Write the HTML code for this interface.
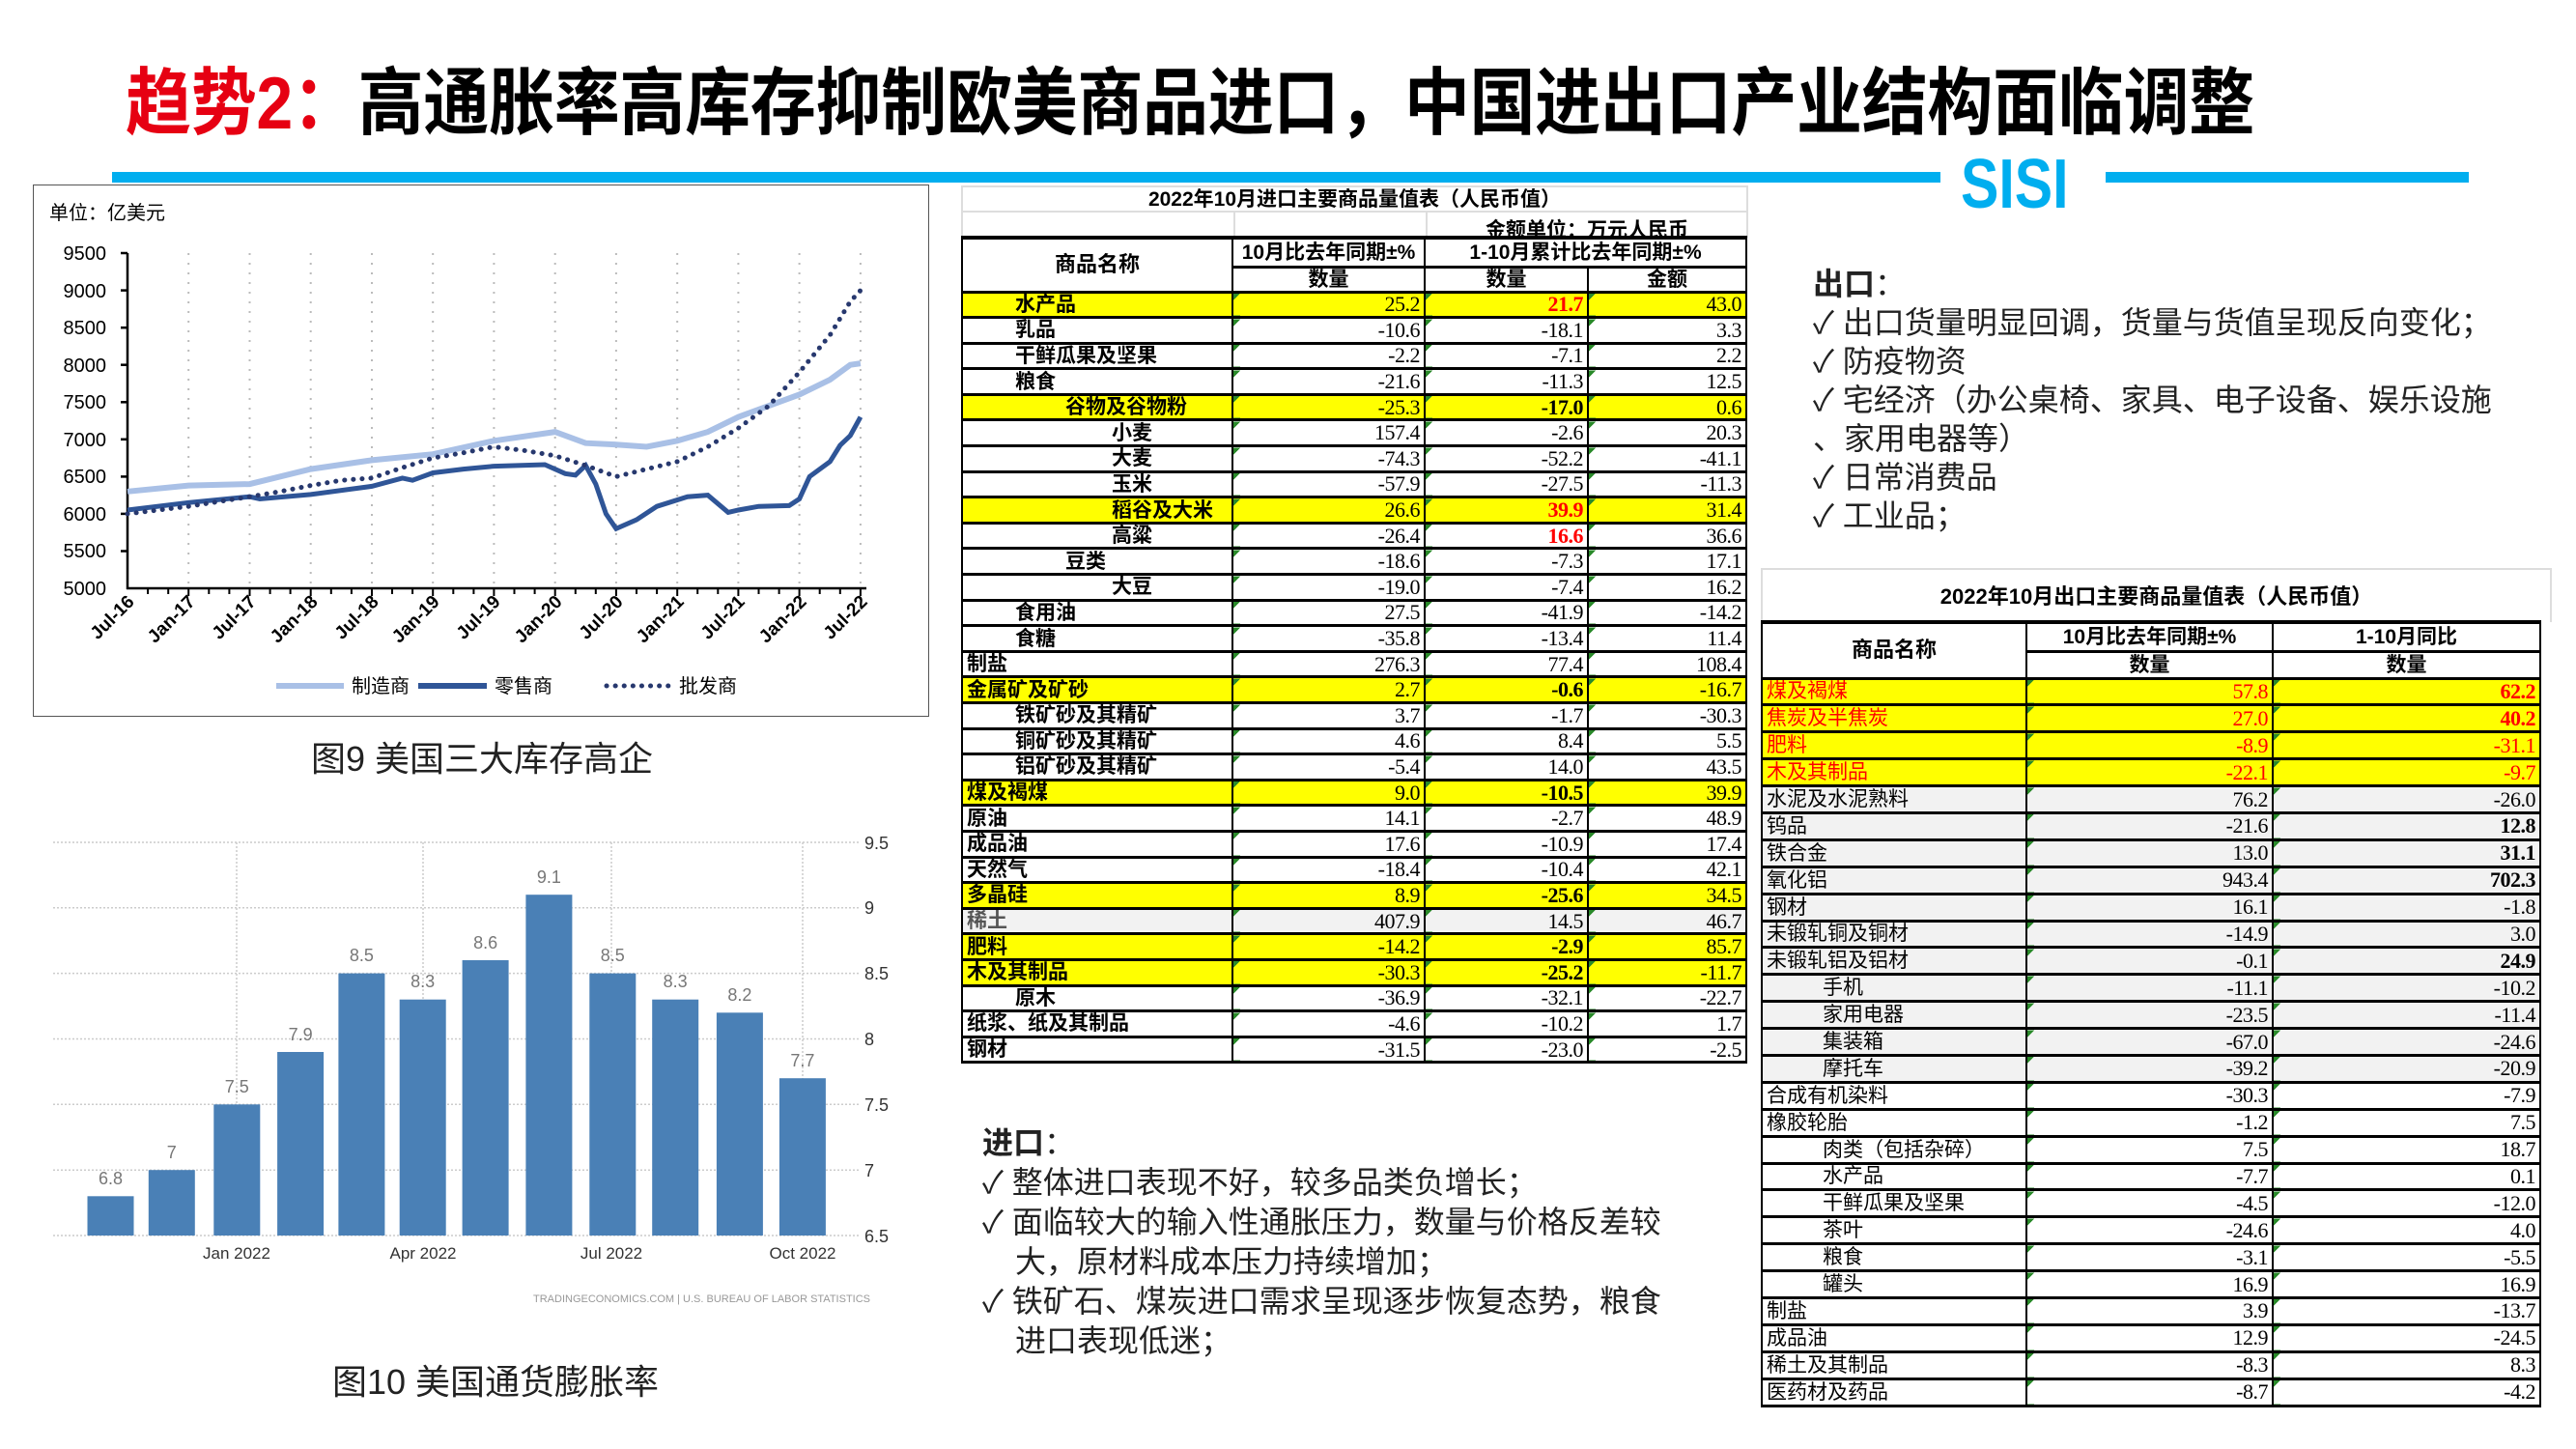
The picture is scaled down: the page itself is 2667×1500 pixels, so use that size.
<!DOCTYPE html>
<html><head><meta charset="utf-8">
<style>
*{margin:0;padding:0;box-sizing:border-box}
body{width:2667px;height:1500px;background:#fff;position:relative;overflow:hidden;font-family:"Liberation Sans","Noto Sans CJK SC",sans-serif;color:#000}
.abs{position:absolute}
.title{left:130px;top:62px;font-size:68px;font-weight:bold;letter-spacing:-0.3px;white-space:nowrap;line-height:90px;transform:scaleY(1.12);transform-origin:left center}
.bar{background:#00aeef;height:11px;top:178px}
.sisi{left:2030px;top:150px;font-size:72px;font-weight:bold;color:#00aeef;transform:scaleX(0.82);transform-origin:left top;font-family:"Liberation Sans Narrow","Liberation Sans",sans-serif}
table{border-collapse:collapse;table-layout:fixed;position:absolute}
td{padding:0 4px;white-space:nowrap;overflow:hidden;font-size:21px;line-height:1}
.imp td,.exp td{border-left:2px solid #000;border-right:2px solid #000;border-bottom:3px solid #000}
td.n{text-align:right;font-family:"Liberation Serif","Noto Serif CJK SC",serif;font-size:22px;background-image:linear-gradient(135deg,#2a8a2a 5px,transparent 5px);letter-spacing:-0.5px}
td.nm{font-weight:bold;font-family:"Liberation Sans","Noto Sans CJK SC",sans-serif}
.exp td.nm{font-weight:normal}
tr.y td{background-color:#ffff00}
tr.g td{background-color:#f2f2f2}
.r{color:#f00}
.b{font-weight:bold}
.hd td{text-align:center;font-weight:bold}
.txt{font-size:32px;color:#222;line-height:40px;white-space:nowrap;font-family:"Liberation Sans","Noto Sans CJK SC",sans-serif}
</style></head><body>

<div class="abs title"><span style="color:#e60012">趋势2：</span>高通胀率高库存抑制欧美商品进口，中国进出口产业结构面临调整</div>
<div class="abs bar" style="left:116px;width:1893px"></div>
<div class="abs bar" style="left:2180px;width:376px"></div>
<div class="abs sisi">SISI</div>

<!-- Chart 1 -->
<div class="abs" style="left:34px;top:191px;width:928px;height:551px;border:1.5px solid #555"></div>
<svg class="abs" style="left:0;top:0" width="1000" height="1500">
<text x="51" y="227" font-size="20" font-family="Liberation Sans,Noto Sans CJK SC,sans-serif">单位：亿美元</text>
<g stroke="#bbb" stroke-width="2" stroke-dasharray="2,8">
<line x1="195.2" y1="262" x2="195.2" y2="609"/><line x1="258.5" y1="262" x2="258.5" y2="609"/><line x1="321.7" y1="262" x2="321.7" y2="609"/><line x1="385" y1="262" x2="385" y2="609"/><line x1="448.2" y1="262" x2="448.2" y2="609"/><line x1="511.4" y1="262" x2="511.4" y2="609"/><line x1="574.7" y1="262" x2="574.7" y2="609"/><line x1="637.9" y1="262" x2="637.9" y2="609"/><line x1="701.2" y1="262" x2="701.2" y2="609"/><line x1="764.4" y1="262" x2="764.4" y2="609"/><line x1="827.6" y1="262" x2="827.6" y2="609"/><line x1="890.9" y1="262" x2="890.9" y2="609"/>
</g>
<g stroke="#000" stroke-width="2.5">
<line x1="132" y1="262" x2="132" y2="610"/><line x1="131" y1="609" x2="897" y2="609"/>
<line x1="125" y1="262" x2="132" y2="262"/><line x1="125" y1="300.6" x2="132" y2="300.6"/><line x1="125" y1="339.2" x2="132" y2="339.2"/><line x1="125" y1="377.7" x2="132" y2="377.7"/><line x1="125" y1="416.3" x2="132" y2="416.3"/><line x1="125" y1="454.8" x2="132" y2="454.8"/><line x1="125" y1="493.4" x2="132" y2="493.4"/><line x1="125" y1="531.9" x2="132" y2="531.9"/><line x1="125" y1="570.5" x2="132" y2="570.5"/>
</g>
<path stroke="#000" stroke-width="2" d="M153.1 609v6M174.2 609v6M195.2 609v8M216.3 609v6M237.4 609v6M258.5 609v8M279.6 609v6M300.6 609v6M321.7 609v8M342.8 609v6M363.9 609v6M385 609v8M406 609v6M427.1 609v6M448.2 609v8M469.3 609v6M490.4 609v6M511.4 609v8M532.5 609v6M553.6 609v6M574.7 609v8M595.8 609v6M616.8 609v6M637.9 609v8M659 609v6M680.1 609v6M701.2 609v8M722.2 609v6M743.3 609v6M764.4 609v8M785.5 609v6M806.6 609v6M827.6 609v8M848.7 609v6M869.8 609v6M890.9 609v8"/>
<g font-size="20" font-family="Liberation Sans Narrow,Liberation Sans,sans-serif" text-anchor="end">
<text x="110" y="269">9500</text><text x="110" y="308">9000</text><text x="110" y="346">8500</text><text x="110" y="385">8000</text><text x="110" y="423">7500</text><text x="110" y="462">7000</text><text x="110" y="500">6500</text><text x="110" y="539">6000</text><text x="110" y="577">5500</text><text x="110" y="616">5000</text>
</g>
<g font-size="19" font-weight="bold" font-family="Liberation Sans,sans-serif" text-anchor="end">
<text transform="translate(140,624) rotate(-45)">Jul-16</text><text transform="translate(203,624) rotate(-45)">Jan-17</text><text transform="translate(266,624) rotate(-45)">Jul-17</text><text transform="translate(330,624) rotate(-45)">Jan-18</text><text transform="translate(393,624) rotate(-45)">Jul-18</text><text transform="translate(456,624) rotate(-45)">Jan-19</text><text transform="translate(519,624) rotate(-45)">Jul-19</text><text transform="translate(583,624) rotate(-45)">Jan-20</text><text transform="translate(646,624) rotate(-45)">Jul-20</text><text transform="translate(709,624) rotate(-45)">Jan-21</text><text transform="translate(772,624) rotate(-45)">Jul-21</text><text transform="translate(836,624) rotate(-45)">Jan-22</text><text transform="translate(899,624) rotate(-45)">Jul-22</text>
</g>
<polyline fill="none" stroke="#a9c0e6" stroke-width="6" points="132,508.8 195.2,502.6 258.5,501.1 321.7,485.6 385,476.4 448.2,470.2 511.4,456.3 574.7,447.1 606.3,458.7 637.9,460.2 669.5,462.5 701.2,456.3 732.8,447.1 764.4,431.7 796,420.1 827.6,408.5 859.3,393.1 880.3,377.7 890.9,376.2"/>
<polyline fill="none" stroke="#2f5597" stroke-width="5" points="132,528 195.2,520.3 258.5,514.2 269,516.5 321.7,511.9 385,503.4 416.6,494.9 427.1,497.2 448.2,489.5 479.8,485.6 511.4,482.6 564.1,481 585.2,490.3 595.8,491.8 606.3,481.8 616.8,501.1 627.4,531.9 637.9,547.3 659,538.1 680.1,524.2 711.7,514.2 732.8,512.6 753.9,530.4 764.4,528 785.5,524.2 817.1,523.4 827.6,516.5 838.2,493.4 859.3,477.9 869.8,461 880.3,451 890.9,431.7"/>
<polyline fill="none" stroke="#27386e" stroke-width="5" stroke-linecap="round" stroke-dasharray="0.1,9" points="132,531.9 195.2,524.2 258.5,514.2 290.1,508.8 321.7,502.6 353.3,497.2 385,494.9 416.6,484.1 448.2,474.1 479.8,468.7 511.4,462.5 543.1,466.4 574.7,471.8 606.3,481.8 637.9,493.4 669.5,485.6 701.2,477.9 732.8,462.5 764.4,443.2 796,420.1 827.6,385.4 859.3,346.9 880.3,312.2 890.9,300.6"/>
<line x1="286" y1="710" x2="356" y2="710" stroke="#a9c0e6" stroke-width="6"/>
<line x1="433" y1="710" x2="504" y2="710" stroke="#2f5597" stroke-width="6"/>
<line x1="628" y1="710" x2="694" y2="710" stroke="#27386e" stroke-width="5" stroke-linecap="round" stroke-dasharray="0.1,9"/>
<g font-size="20" font-family="Liberation Sans,Noto Sans CJK SC,sans-serif">
<text x="364" y="717">制造商</text><text x="512" y="717">零售商</text><text x="703" y="717">批发商</text>
</g>
<text x="499" y="798" font-size="36" text-anchor="middle" font-family="Liberation Sans,Noto Sans CJK SC,sans-serif" fill="#222">图9 美国三大库存高企</text>

<!-- Chart 2 -->
<g stroke="#ccc" stroke-width="1.5" stroke-dasharray="2,2">
<line x1="55" y1="872" x2="890" y2="872"/><line x1="55" y1="939.8" x2="890" y2="939.8"/><line x1="55" y1="1007.6" x2="890" y2="1007.6"/><line x1="55" y1="1075.5" x2="890" y2="1075.5"/><line x1="55" y1="1143.3" x2="890" y2="1143.3"/><line x1="55" y1="1211.2" x2="890" y2="1211.2"/><line x1="55" y1="1279" x2="890" y2="1279"/>
<line x1="245" y1="872" x2="245" y2="1279"/><line x1="438" y1="872" x2="438" y2="1279"/><line x1="633" y1="872" x2="633" y2="1279"/><line x1="831" y1="872" x2="831" y2="1279"/>
</g>
<g fill="#4a80b6">
<rect x="90.5" y="1238.3" width="48" height="40.7"/><rect x="153.8" y="1211.2" width="48" height="67.8"/><rect x="221.3" y="1143.3" width="48" height="135.7"/><rect x="287.1" y="1089" width="48" height="190"/><rect x="350.4" y="1007.6" width="48" height="271.4"/><rect x="413.7" y="1034.7" width="48" height="244.3"/><rect x="478.6" y="994" width="48" height="285"/><rect x="544.4" y="926.2" width="48" height="352.8"/><rect x="610.3" y="1007.6" width="48" height="271.4"/><rect x="675.2" y="1034.7" width="48" height="244.3"/><rect x="741.9" y="1048.3" width="48" height="230.7"/><rect x="806.9" y="1116.2" width="48" height="162.8"/>
</g>
<g font-size="18" fill="#777" text-anchor="middle" font-family="Liberation Sans Narrow,Liberation Sans,sans-serif">
<text x="114.5" y="1226">6.8</text><text x="177.8" y="1199">7</text><text x="245.3" y="1131">7.5</text><text x="311.1" y="1077">7.9</text><text x="374.4" y="995">8.5</text><text x="437.7" y="1022">8.3</text><text x="502.6" y="982">8.6</text><text x="568.4" y="914">9.1</text><text x="634.3" y="995">8.5</text><text x="699.2" y="1022">8.3</text><text x="765.9" y="1036">8.2</text><text x="830.9" y="1104">7.7</text>
</g>
<g font-size="18" fill="#333" font-family="Liberation Sans Narrow,Liberation Sans,sans-serif">
<text x="895" y="879">9.5</text><text x="895" y="946">9</text><text x="895" y="1014">8.5</text><text x="895" y="1082">8</text><text x="895" y="1150">7.5</text><text x="895" y="1218">7</text><text x="895" y="1286">6.5</text>
</g>
<g font-size="17" fill="#333" text-anchor="middle" font-family="Liberation Sans Narrow,Liberation Sans,sans-serif">
<text x="245" y="1303">Jan 2022</text><text x="438" y="1303">Apr 2022</text><text x="633" y="1303">Jul 2022</text><text x="831" y="1303">Oct 2022</text>
</g>
<text x="901" y="1348" font-size="11" fill="#999" text-anchor="end" font-family="Liberation Sans,sans-serif">TRADINGECONOMICS.COM  |  U.S. BUREAU OF LABOR STATISTICS</text>
<text x="513" y="1443" font-size="36" text-anchor="middle" font-family="Liberation Sans,Noto Sans CJK SC,sans-serif" fill="#222">图10 美国通货膨胀率</text>
</svg>

<!-- Import table -->
<div class="abs" style="left:995px;top:192px;width:815px;height:28px;border:2px solid #ddd;text-align:center;font-size:21px;font-weight:bold;line-height:26px">2022年10月进口主要商品量值表（人民币值）</div>
<div class="abs" style="left:995px;top:220px;width:815px;height:26px;border-left:2px solid #ddd;border-right:2px solid #ddd"></div>
<div class="abs" style="left:1277px;top:220px;width:2px;height:26px;background:#ddd"></div>
<div class="abs" style="left:1476px;top:220px;width:2px;height:26px;background:#ddd"></div>
<div class="abs" style="left:1476px;top:222px;width:334px;text-align:center;font-size:21px;font-weight:bold">金额单位：万元人民币</div>
<table class="imp" style="left:995px;top:244px;width:812px;border-top:4px solid #000">
<colgroup><col style="width:280px"><col style="width:199px"><col style="width:169px"><col style="width:164px"></colgroup>
<tr class="hd" style="height:30px"><td rowspan="2" style="font-size:22px">商品名称</td><td>10月比去年同期±%</td><td colspan="2">1-10月累计比去年同期±%</td></tr>
<tr class="hd" style="height:26px"><td>数量</td><td>数量</td><td>金额</td></tr>
<tr class="y" style="height:26.6px"><td class="nm" style="padding-left:54px">水产品</td><td class="n">25.2</td><td class="n r b">21.7</td><td class="n">43.0</td></tr>
<tr style="height:26.6px"><td class="nm" style="padding-left:54px">乳品</td><td class="n">-10.6</td><td class="n">-18.1</td><td class="n">3.3</td></tr>
<tr style="height:26.6px"><td class="nm" style="padding-left:54px">干鲜瓜果及坚果</td><td class="n">-2.2</td><td class="n">-7.1</td><td class="n">2.2</td></tr>
<tr style="height:26.6px"><td class="nm" style="padding-left:54px">粮食</td><td class="n">-21.6</td><td class="n">-11.3</td><td class="n">12.5</td></tr>
<tr class="y" style="height:26.6px"><td class="nm" style="padding-left:106px">谷物及谷物粉</td><td class="n">-25.3</td><td class="n b">-17.0</td><td class="n">0.6</td></tr>
<tr style="height:26.6px"><td class="nm" style="padding-left:154px">小麦</td><td class="n">157.4</td><td class="n">-2.6</td><td class="n">20.3</td></tr>
<tr style="height:26.6px"><td class="nm" style="padding-left:154px">大麦</td><td class="n">-74.3</td><td class="n">-52.2</td><td class="n">-41.1</td></tr>
<tr style="height:26.6px"><td class="nm" style="padding-left:154px">玉米</td><td class="n">-57.9</td><td class="n">-27.5</td><td class="n">-11.3</td></tr>
<tr class="y" style="height:26.6px"><td class="nm" style="padding-left:154px">稻谷及大米</td><td class="n">26.6</td><td class="n r b">39.9</td><td class="n">31.4</td></tr>
<tr style="height:26.6px"><td class="nm" style="padding-left:154px">高粱</td><td class="n">-26.4</td><td class="n r b">16.6</td><td class="n">36.6</td></tr>
<tr style="height:26.6px"><td class="nm" style="padding-left:106px">豆类</td><td class="n">-18.6</td><td class="n">-7.3</td><td class="n">17.1</td></tr>
<tr style="height:26.6px"><td class="nm" style="padding-left:154px">大豆</td><td class="n">-19.0</td><td class="n">-7.4</td><td class="n">16.2</td></tr>
<tr style="height:26.6px"><td class="nm" style="padding-left:54px">食用油</td><td class="n">27.5</td><td class="n">-41.9</td><td class="n">-14.2</td></tr>
<tr style="height:26.6px"><td class="nm" style="padding-left:54px">食糖</td><td class="n">-35.8</td><td class="n">-13.4</td><td class="n">11.4</td></tr>
<tr style="height:26.6px"><td class="nm">制盐</td><td class="n">276.3</td><td class="n">77.4</td><td class="n">108.4</td></tr>
<tr class="y" style="height:26.6px"><td class="nm">金属矿及矿砂</td><td class="n">2.7</td><td class="n b">-0.6</td><td class="n">-16.7</td></tr>
<tr style="height:26.6px"><td class="nm" style="padding-left:54px">铁矿砂及其精矿</td><td class="n">3.7</td><td class="n">-1.7</td><td class="n">-30.3</td></tr>
<tr style="height:26.6px"><td class="nm" style="padding-left:54px">铜矿砂及其精矿</td><td class="n">4.6</td><td class="n">8.4</td><td class="n">5.5</td></tr>
<tr style="height:26.6px"><td class="nm" style="padding-left:54px">铝矿砂及其精矿</td><td class="n">-5.4</td><td class="n">14.0</td><td class="n">43.5</td></tr>
<tr class="y" style="height:26.6px"><td class="nm">煤及褐煤</td><td class="n">9.0</td><td class="n b">-10.5</td><td class="n">39.9</td></tr>
<tr style="height:26.6px"><td class="nm">原油</td><td class="n">14.1</td><td class="n">-2.7</td><td class="n">48.9</td></tr>
<tr style="height:26.6px"><td class="nm">成品油</td><td class="n">17.6</td><td class="n">-10.9</td><td class="n">17.4</td></tr>
<tr style="height:26.6px"><td class="nm">天然气</td><td class="n">-18.4</td><td class="n">-10.4</td><td class="n">42.1</td></tr>
<tr class="y" style="height:26.6px"><td class="nm">多晶硅</td><td class="n">8.9</td><td class="n b">-25.6</td><td class="n">34.5</td></tr>
<tr class="g" style="height:26.6px"><td class="nm" style="color:#555">稀土</td><td class="n">407.9</td><td class="n">14.5</td><td class="n">46.7</td></tr>
<tr class="y" style="height:26.6px"><td class="nm">肥料</td><td class="n">-14.2</td><td class="n b">-2.9</td><td class="n">85.7</td></tr>
<tr class="y" style="height:26.6px"><td class="nm">木及其制品</td><td class="n">-30.3</td><td class="n b">-25.2</td><td class="n">-11.7</td></tr>
<tr style="height:26.6px"><td class="nm" style="padding-left:54px">原木</td><td class="n">-36.9</td><td class="n">-32.1</td><td class="n">-22.7</td></tr>
<tr style="height:26.6px"><td class="nm">纸浆、纸及其制品</td><td class="n">-4.6</td><td class="n">-10.2</td><td class="n">1.7</td></tr>
<tr style="height:26.6px"><td class="nm">钢材</td><td class="n">-31.5</td><td class="n">-23.0</td><td class="n">-2.5</td></tr>
</table>

<!-- Export table -->
<div class="abs" style="left:1823px;top:588px;width:819px;height:56px;border:2px solid #ddd;border-bottom:none;text-align:center;font-size:22px;font-weight:bold;line-height:56px">2022年10月出口主要商品量值表（人民币值）</div>
<table class="exp" style="left:1823px;top:642px;width:806px;border-top:4px solid #000">
<colgroup><col style="width:274px"><col style="width:255px"><col style="width:277px"></colgroup>
<tr class="hd" style="height:30px"><td rowspan="2" style="font-size:22px">商品名称</td><td>10月比去年同期±%</td><td>1-10月同比</td></tr>
<tr class="hd" style="height:28px"><td>数量</td><td>数量</td></tr>
<tr class="y" style="height:27.9px"><td class="nm r">煤及褐煤</td><td class="n r">57.8</td><td class="n r b">62.2</td></tr>
<tr class="y" style="height:27.9px"><td class="nm r">焦炭及半焦炭</td><td class="n r">27.0</td><td class="n r b">40.2</td></tr>
<tr class="y" style="height:27.9px"><td class="nm r">肥料</td><td class="n r">-8.9</td><td class="n r">-31.1</td></tr>
<tr class="y" style="height:27.9px"><td class="nm r">木及其制品</td><td class="n r">-22.1</td><td class="n r">-9.7</td></tr>
<tr class="g" style="height:27.9px"><td class="nm">水泥及水泥熟料</td><td class="n">76.2</td><td class="n">-26.0</td></tr>
<tr class="g" style="height:27.9px"><td class="nm">钨品</td><td class="n">-21.6</td><td class="n b">12.8</td></tr>
<tr class="g" style="height:27.9px"><td class="nm">铁合金</td><td class="n">13.0</td><td class="n b">31.1</td></tr>
<tr class="g" style="height:27.9px"><td class="nm">氧化铝</td><td class="n">943.4</td><td class="n b">702.3</td></tr>
<tr class="g" style="height:27.9px"><td class="nm">钢材</td><td class="n">16.1</td><td class="n">-1.8</td></tr>
<tr class="g" style="height:27.9px"><td class="nm">未锻轧铜及铜材</td><td class="n">-14.9</td><td class="n">3.0</td></tr>
<tr class="g" style="height:27.9px"><td class="nm">未锻轧铝及铝材</td><td class="n">-0.1</td><td class="n b">24.9</td></tr>
<tr class="g" style="height:27.9px"><td class="nm" style="padding-left:62px">手机</td><td class="n">-11.1</td><td class="n">-10.2</td></tr>
<tr class="g" style="height:27.9px"><td class="nm" style="padding-left:62px">家用电器</td><td class="n">-23.5</td><td class="n">-11.4</td></tr>
<tr class="g" style="height:27.9px"><td class="nm" style="padding-left:62px">集装箱</td><td class="n">-67.0</td><td class="n">-24.6</td></tr>
<tr class="g" style="height:27.9px"><td class="nm" style="padding-left:62px">摩托车</td><td class="n">-39.2</td><td class="n">-20.9</td></tr>
<tr style="height:27.9px"><td class="nm">合成有机染料</td><td class="n">-30.3</td><td class="n">-7.9</td></tr>
<tr style="height:27.9px"><td class="nm">橡胶轮胎</td><td class="n">-1.2</td><td class="n">7.5</td></tr>
<tr style="height:27.9px"><td class="nm" style="padding-left:62px">肉类（包括杂碎）</td><td class="n">7.5</td><td class="n">18.7</td></tr>
<tr style="height:27.9px"><td class="nm" style="padding-left:62px">水产品</td><td class="n">-7.7</td><td class="n">0.1</td></tr>
<tr style="height:27.9px"><td class="nm" style="padding-left:62px">干鲜瓜果及坚果</td><td class="n">-4.5</td><td class="n">-12.0</td></tr>
<tr style="height:27.9px"><td class="nm" style="padding-left:62px">茶叶</td><td class="n">-24.6</td><td class="n">4.0</td></tr>
<tr style="height:27.9px"><td class="nm" style="padding-left:62px">粮食</td><td class="n">-3.1</td><td class="n">-5.5</td></tr>
<tr style="height:27.9px"><td class="nm" style="padding-left:62px">罐头</td><td class="n">16.9</td><td class="n">16.9</td></tr>
<tr style="height:27.9px"><td class="nm">制盐</td><td class="n">3.9</td><td class="n">-13.7</td></tr>
<tr style="height:27.9px"><td class="nm">成品油</td><td class="n">12.9</td><td class="n">-24.5</td></tr>
<tr style="height:27.9px"><td class="nm">稀土及其制品</td><td class="n">-8.3</td><td class="n">8.3</td></tr>
<tr style="height:27.9px"><td class="nm">医药材及药品</td><td class="n">-8.7</td><td class="n">-4.2</td></tr>
</table>

<!-- Text blocks -->
<div class="abs txt" style="left:1877px;top:274px">
<div><b>出口</b>：</div>
<div>✓ 出口货量明显回调，货量与货值呈现反向变化；</div>
<div>✓ 防疫物资</div>
<div>✓ 宅经济（办公桌椅、家具、电子设备、娱乐设施</div>
<div>、家用电器等）</div>
<div>✓ 日常消费品</div>
<div>✓ 工业品；</div>
</div>
<div class="abs txt" style="left:1017px;top:1163px;line-height:41px">
<div><b>进口</b>：</div>
<div>✓ 整体进口表现不好，较多品类负增长；</div>
<div>✓ 面临较大的输入性通胀压力，数量与价格反差较</div>
<div style="padding-left:34px">大，原材料成本压力持续增加；</div>
<div>✓ 铁矿石、煤炭进口需求呈现逐步恢复态势，粮食</div>
<div style="padding-left:34px">进口表现低迷；</div>
</div>
</body></html>
